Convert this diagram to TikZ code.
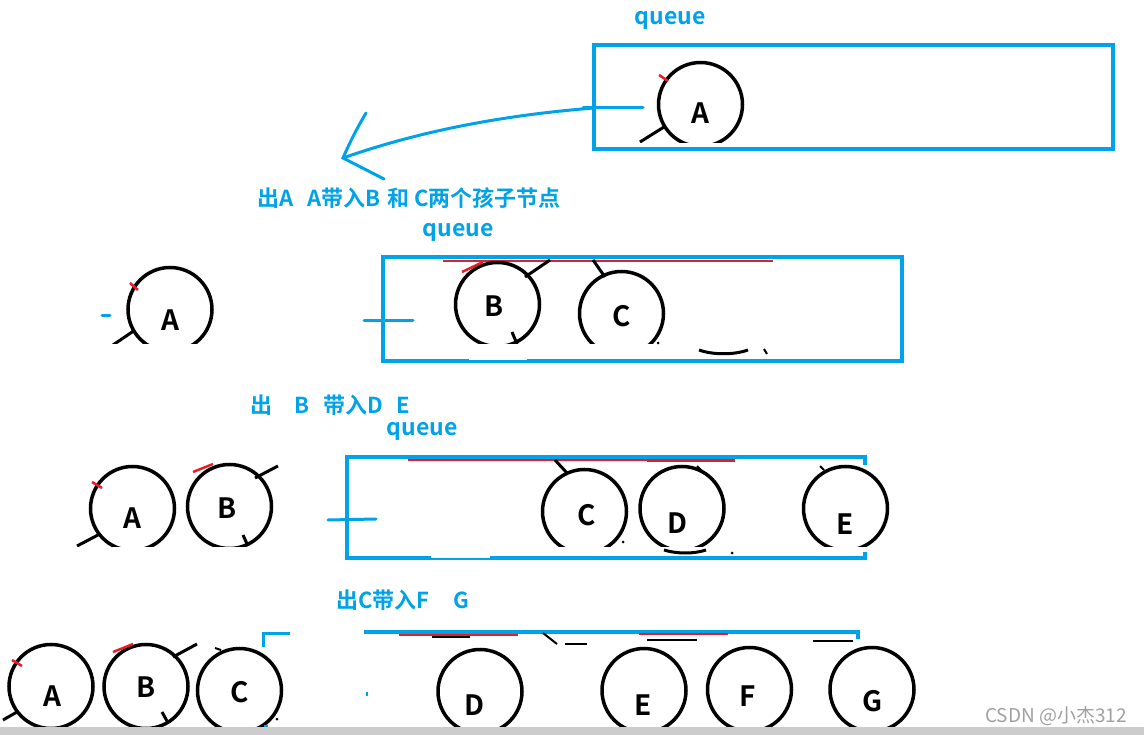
\documentclass[tikz,border=0pt]{standalone}
\usepackage{fontspec}
\newfontfamily\cjk{Noto Sans CJK SC Bold}
\newfontfamily\cjkthin{Noto Sans CJK SC}
\usepackage{tikz}
\usetikzlibrary{positioning}
\definecolor{paintblue}{RGB}{0, 162, 232}
\definecolor{paintred}{RGB}{237, 28, 36}
\definecolor{bargray}{RGB}{204, 204, 204}
\definecolor{markgray}{RGB}{160, 160, 160}
% letter inside a circle, shifted by (dx, dy) from its centre
\newcommand\ltr[3]{\raisebox{\dimexpr-#2pt-10pt\relax}[0pt][0pt]{\makebox[0pt]{\hspace{#1pt}\hspace{#1pt}#3}}}

\begin{document}
\begin{tikzpicture}[
  x=1pt, y=-1pt,
  qnode/.style={
    circle, draw=black, line width=3.5pt, minimum size=84pt, inner sep=0pt,
    font=\cjk\fontsize{28}{28}\selectfont
  },
  qbox/.style={draw=paintblue, line width=4pt},
  qlabel/.style={text=paintblue, font=\cjk\fontsize{23}{23}\selectfont, inner sep=0pt},
  steplabel/.style={text=paintblue, font=\cjk\fontsize{22}{22}\selectfont, inner sep=0pt, anchor=west},
  stub/.style={line width=3pt},
  scrap/.style={line width=2pt},
  redmark/.style={draw=paintred, line width=2.5pt},
  bluestroke/.style={draw=paintblue, line width=3pt, line cap=round},
]
\useasboundingbox (0,0) rectangle (1144,735);

\def\clipA{142.5}
\def\clipB{344}
\def\clipC{546}
\def\clipD{727}

% 1. queue with A
\node[qlabel] (q1) at (670,20) {queue};
\draw[qbox] (594,45) rectangle (1113,149);
\begin{scope}
  \clip (0,0) rectangle (1144,\clipA);
  \node[qnode] (r1a) at (700.5,104.5) {\ltr{0}{9}{A}};
  \draw[stub] (640,142) -- (664,127);
\end{scope}
\draw[redmark] (659,75) -- (668,81);
\coordinate (q1w) at (594,108);
\coordinate (q1in) at (643,108);
\draw[bluestroke] (583,108) -- (q1in);

% arrow out of the queue
\coordinate (tip) at (343,158);
\coordinate (armU) at (366,113);
\coordinate (armL) at (384,179);
\draw[bluestroke] (q1w) .. controls (480,117) and (400,138) .. (tip);
\draw[bluestroke] (armU) .. controls (356,130) and (350,142) .. (tip) -- (armL);

\node[steplabel] (s1) at (257,198) {出A\hspace{14pt}A带入B\hspace{7pt}和 C两个孩子节点};

% 2. out A, queue with B C
\node[qlabel] (q2) at (458,232) {queue};
\draw[qbox] (383,257) rectangle (902,361);
\draw[draw=white, line width=2pt] (469,359.5) -- (527,359.5);
\draw[paintred, line width=2pt] (443,261) -- (773,261);
\begin{scope}
  \clip (0,150) rectangle (1144,\clipB);
  \node[qnode] (r2a) at (170,309.5) {\ltr{0}{11}{A}};
  \node[qnode] (r2b) at (497.5,304.5) {\ltr{-3}{2}{B}};
  \node[qnode] (r2c) at (621.5,313.5) {\ltr{0}{3}{C}};
  \draw[stub] (113,345) -- (135,330);
  \draw[stub] (512,332) -- (517,344);
\end{scope}
\draw[stub] (525,277) -- (550,260);
\draw[stub] (593,260) -- (605,277);
\draw[redmark] (130,283) -- (138,290);
\draw[redmark] (462,272) -- (483,262);
\draw[bluestroke] (102,316) -- (110,316);
\draw[bluestroke] (364,321) -- (413,321);
\draw[line width=3pt] (699,350) .. controls (713,355) and (734,355) .. (748,350);
\fill (658,343) circle (1.5);
\draw[scrap] (764,349) -- (767,354);

\node[steplabel] (s2) at (250,405) {出\hspace{22pt}B\hspace{14pt}带入D\hspace{14pt}E};

% 3. out B, queue with C D E
\node[qlabel] (q3) at (422,431) {queue};
\draw[qbox] (865,465) -- (865,457) -- (347,457) -- (347,558) -- (865,558) -- (865,552);
\draw[draw=white, line width=2pt] (431,556.5) -- (490,556.5);
\draw[paintred, line width=2pt] (408,459.5) -- (735,459.5);
\draw[paintred, line width=3pt] (647,460) -- (735,460);
\begin{scope}
  \clip (0,440) rectangle (1144,\clipC);
  \node[qnode] (r3a) at (132.5,508.5) {\ltr{0}{10}{A}};
  \node[qnode] (r3b) at (229.5,506.5) {\ltr{-2}{2}{B}};
  \node[qnode] (r3c) at (584.5,511.5) {\ltr{2}{4}{C}};
  \node[qnode] (r3d) at (682,508.5) {\ltr{-5}{15}{D}};
  \node[qnode] (r3e) at (845.5,508.5) {\ltr{0}{16}{E}};
  \draw[stub] (77,546) -- (98,535);
  \draw[stub] (243,535) -- (248,546);
\end{scope}
\draw[stub] (255,478) -- (278,466);
\draw[stub] (555,460) -- (567,473);
\draw[scrap] (697,466) -- (702,471);
\draw[scrap] (820,466) -- (824,470);
\draw[redmark] (92,482) -- (102,488);
\draw[redmark] (193,472) -- (213,464);
\draw[bluestroke] (328,520) -- (376,519);
\draw[line width=3pt] (664,550) .. controls (677,554) and (694,554) .. (706,550);
\fill (623,542) circle (1.5);
\fill (732,553) circle (1.5);

\node[steplabel] (s3) at (336,600) {出C带入F\hspace{24pt}G};

% 4. out C, queue with D E F G
\draw[bluestroke, line cap=butt] (263,647) -- (263,633) -- (290,633);
\draw[bluestroke, line cap=butt, line width=4pt] (364,632) -- (858,632) -- (858,639);
\draw[paintred, line width=2pt] (399,635) -- (518,635);
\draw[paintred, line width=2pt] (639,634) -- (728,634);
\draw[scrap] (432,637) -- (470,637);
\draw[scrap] (543,633) -- (557,644);
\draw[scrap] (565,644) -- (587,644);
\draw[scrap] (647,640) -- (697,640);
\draw[scrap] (813,641) -- (853,641);
\begin{scope}
  \clip (0,600) rectangle (1144,\clipD);
  \node[qnode] (r4a) at (51,686.5) {\ltr{1}{10}{A}};
  \node[qnode] (r4b) at (146,686.5) {\ltr{0}{1}{B}};
  \node[qnode] (r4c) at (239.5,690.5) {\ltr{0}{2}{C}};
  \node[qnode] (r4d) at (480,691.5) {\ltr{-6}{14}{D}};
  \node[qnode] (r4e) at (644,690.5) {\ltr{-1}{15}{E}};
  \node[qnode] (r4f) at (749.5,689.5) {\ltr{-2}{7}{F}};
  \node[qnode] (r4g) at (872,689.5) {\ltr{1}{12}{G}};
  \draw[stub] (3,720) -- (17,712);
  \draw[stub] (162,712) -- (167,721);
\end{scope}
\draw[stub] (173,657) -- (197,644);
\draw[scrap] (215,648) -- (221,650);
\fill (277,719) circle (1.5);
\draw[redmark] (12,660) -- (22,666);
\draw[redmark] (113,652) -- (133,644);
\fill[paintblue] (366,692) rectangle (368,696);
\fill[paintblue] (264,725) rectangle (268,727);

% scroll bar and watermark
\fill[bargray] (0,727) rectangle (1144,735);
\node[text=markgray, font=\cjkthin\fontsize{19}{19}\selectfont, inner sep=0pt] (mark) at (1056,716) {CSDN @小杰312};

\end{tikzpicture}
\end{document}
